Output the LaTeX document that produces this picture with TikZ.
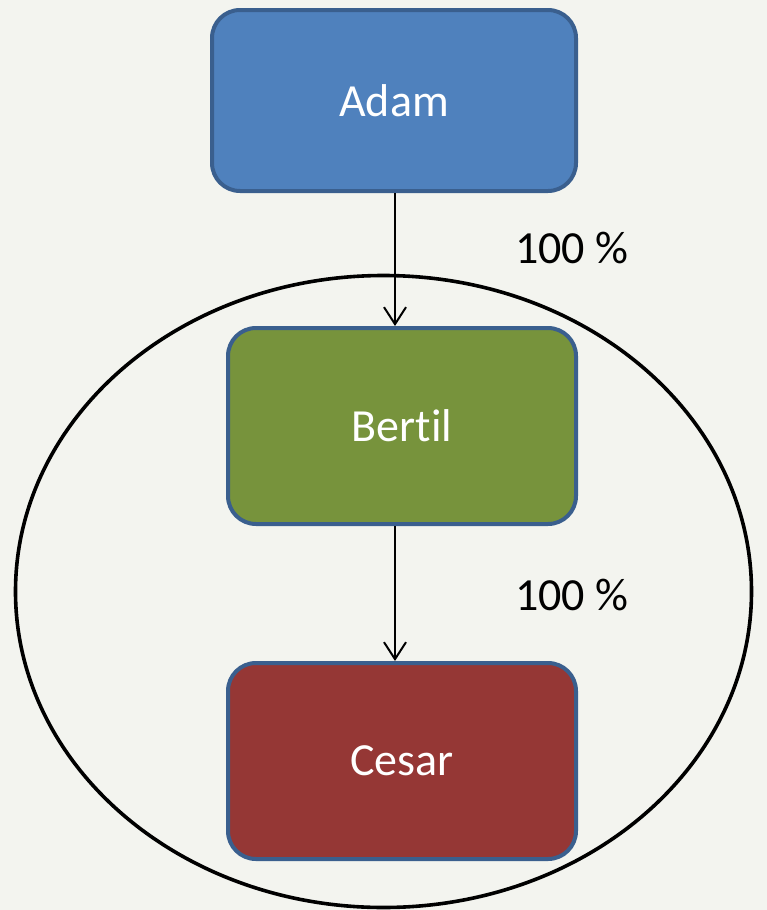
\documentclass[tikz,border=0pt]{standalone}
\usepackage{fontspec}
\setmainfont[Ligatures=NoCommon]{Carlito}
\usetikzlibrary{arrows.meta,shapes.geometric}
\definecolor{bg}{HTML}{F3F4EF}
\definecolor{edgeblue}{HTML}{3A5F8E}
\definecolor{fillblue}{HTML}{4F81BD}
\definecolor{fillgreen}{HTML}{77933C}
\definecolor{fillred}{HTML}{953735}
\tikzset{
  box/.style={draw=edgeblue, line width=4pt, rounded corners=28pt, minimum width=#1, text=white, font=\fontsize{46}{50}\selectfont, inner sep=0pt},
  link/.style={line width=2pt, -{Straight Barb[length=17pt,width=22pt,line width=2pt]}},
  pct/.style={font=\fontsize{46}{50}\selectfont, anchor=west, inner sep=0pt}
}
\begin{document}
\begin{tikzpicture}[x=1pt,y=-1pt]
\fill[bg] (0,0) rectangle (767,910);
\useasboundingbox (0,0) rectangle (767,910);
\node[draw=black, line width=3.6pt, ellipse, minimum width=736pt, minimum height=632pt, inner sep=0pt] (grp) at (383.5,591.5) {};
\node[box=364pt, fill=fillblue, minimum height=181pt] (adam) at (394,100.5) {Adam};
\node[box=348pt, fill=fillgreen, minimum height=196pt] (bertil) at (402,426) {Bertil};
\node[box=348pt, fill=fillred, minimum height=196pt] (cesar) at (402,761) {Cesar};
\draw[link] (adam.south -| 395,0) -- (bertil.north -| 395,0);
\draw[link] (bertil.south -| 395,0) -- (cesar.north -| 395,0);
\node[pct] (p1) at (515,248) {100 \%};
\node[pct] (p2) at (515,595) {100 \%};
\end{tikzpicture}
\end{document}
